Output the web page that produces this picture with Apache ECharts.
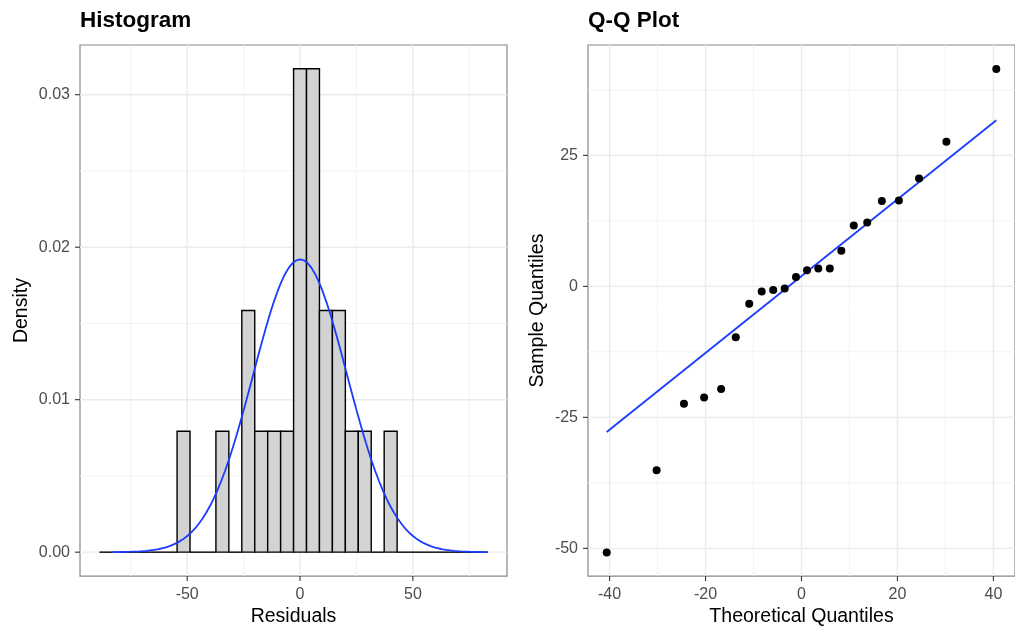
<!DOCTYPE html>
<html>
<head>
<meta charset="utf-8">
<script src="https://cdn.jsdelivr.net/npm/echarts@6/dist/echarts.min.js"></script>
<style>
  html, body { margin: 0; padding: 0; background: #fff; }
  #main { width: 1015px; height: 632px; }
</style>
</head>
<body>
<div id="main"></div>
<script>
// Q-Q 图的数据（直方图也用同一组残差）
var theoreticalQ = [-40.6, -30.2, -24.5, -20.3, -16.75, -13.7, -10.9, -8.3, -5.9, -3.5, -1.15,
                    1.15, 3.5, 5.9, 8.3, 10.9, 13.7, 16.75, 20.3, 24.5, 30.2, 40.6];
var sampleQ = [-50.8, -35.1, -22.4, -21.2, -19.6, -9.7, -3.3, -1.0, -0.7, -0.4, 1.8,
               3.1, 3.4, 3.4, 6.8, 11.6, 12.2, 16.3, 16.4, 20.6, 27.6, 41.5];
// 参考线两端
var qqLineX = [-40.6, 40.6];
var qqLineY = [-27.8, 31.7];

// 直方图分箱
var binWidth = 5.735;
var binFirst = -15, binLast = 14;

// 刻度和网格线
var histXTicks = [-50, 0, 50];
var histXMinor = [-75, -25, 25, 75];
var histYTicks = [0, 0.01, 0.02, 0.03];
var histYMinor = [0.005, 0.015, 0.025];
var qqXTicks = [-40, -20, 0, 20, 40];
var qqXMinor = [-30, -10, 10, 30];
var qqYTicks = [-50, -25, 0, 25];
var qqYMinor = [-37.5, -12.5, 12.5, 37.5];

// 坐标范围
var histXRange = [-97.5, 91.7];
var histYRange = [-0.00157, 0.03326];
var qqXRange = [-44.5, 44.5];
var qqYRange = [-55.3, 46.07];

var FONT = '"Liberation Sans", Arial, Helvetica, sans-serif';
var BORDER = '#888';

// 直方图：按分箱统计密度
var n = sampleQ.length;
var counts = {};
sampleQ.forEach(function (v) {
    var k = Math.round(v / binWidth);
    counts[k] = (counts[k] || 0) + 1;
});
var histData = [];
for (var k = binFirst; k <= binLast; k++) {
    histData.push([(k - 0.5) * binWidth, (k + 0.5) * binWidth, (counts[k] || 0) / (n * binWidth)]);
}

// 正态曲线
var mean = sampleQ.reduce(function (a, b) { return a + b; }, 0) / n;
var sd = Math.sqrt(sampleQ.reduce(function (a, b) { return a + (b - mean) * (b - mean); }, 0) / (n - 1));
var curveData = [];
for (var i = 0; i <= 100; i++) {
    var x = mean - 4 * sd + i * 8 * sd / 100;
    curveData.push([x, Math.exp(-0.5 * Math.pow((x - mean) / sd, 2)) / (sd * Math.sqrt(2 * Math.PI))]);
}

var qqPoints = theoreticalQ.map(function (t, i) { return [t, sampleQ[i]]; });
var qqLine = qqLineX.map(function (t, i) { return [t, qqLineY[i]]; });

// 网格线用 custom 系列画，便于控制层级
function gridLines(idx, xr, yr, xMajor, xMinor, yMajor, yMinor) {
    var items = [];
    xMinor.forEach(function (v) { items.push([v, 0, 0]); });
    yMinor.forEach(function (v) { items.push([v, 1, 0]); });
    xMajor.forEach(function (v) { items.push([v, 0, 1]); });
    yMajor.forEach(function (v) { items.push([v, 1, 1]); });
    return {
        type: 'custom',
        xAxisIndex: idx,
        yAxisIndex: idx,
        silent: true,
        z: 1,
        data: items,
        renderItem: function (params, api) {
            var v = api.value(0), horiz = api.value(1), major = api.value(2);
            var p1, p2;
            if (horiz) {
                p1 = api.coord([xr[0], v]);
                p2 = api.coord([xr[1], v]);
            } else {
                p1 = api.coord([v, yr[0]]);
                p2 = api.coord([v, yr[1]]);
            }
            return {
                type: 'line',
                shape: { x1: p1[0], y1: p1[1], x2: p2[0], y2: p2[1] },
                style: { stroke: major ? '#ebebeb' : '#f3f3f3', lineWidth: major ? 1.4 : 1 }
            };
        }
    };
}

// 刻度线（画在面板外侧）
function tickMarks(idx, xr, yr, xTicks, yTicks) {
    var items = [];
    xTicks.forEach(function (v) { items.push([v, 0]); });
    yTicks.forEach(function (v) { items.push([v, 1]); });
    return {
        type: 'custom',
        xAxisIndex: idx,
        yAxisIndex: idx,
        silent: true,
        clip: false,
        z: 5,
        data: items,
        renderItem: function (params, api) {
            var v = api.value(0), isY = api.value(1);
            var p, shape;
            if (isY) {
                p = api.coord([xr[0], v]);
                shape = { x1: p[0] - 5, y1: p[1], x2: p[0], y2: p[1] };
            } else {
                p = api.coord([v, yr[0]]);
                shape = { x1: p[0], y1: p[1], x2: p[0], y2: p[1] + 5 };
            }
            return { type: 'line', shape: shape, style: { stroke: '#333', lineWidth: 1.1 } };
        }
    };
}

function xAxisOpt(idx, range, ticks, name) {
    return {
        type: 'value', gridIndex: idx, min: range[0], max: range[1],
        splitLine: { show: false },
        axisLine: { show: false, onZero: false },
        axisTick: { show: false },
        axisLabel: { customValues: ticks, margin: 10, color: '#4d4d4d', fontSize: 16, fontFamily: FONT },
        name: name, nameLocation: 'middle', nameGap: 28,
        nameTextStyle: { color: '#000', fontSize: 19.5, fontFamily: FONT }
    };
}

function yAxisOpt(idx, range, ticks, name, gap, fmt) {
    return {
        type: 'value', gridIndex: idx, min: range[0], max: range[1],
        splitLine: { show: false },
        axisLine: { show: false, onZero: false },
        axisTick: { show: false },
        axisLabel: { customValues: ticks, margin: 10, color: '#4d4d4d', fontSize: 16, fontFamily: FONT, formatter: fmt },
        name: name, nameLocation: 'middle', nameGap: gap,
        nameTextStyle: { color: '#000', fontSize: 19.5, fontFamily: FONT }
    };
}

var myChart = echarts.init(document.getElementById('main'));

var option = {
    animation: false,
    backgroundColor: '#fff',
    title: [
        { text: 'Histogram', left: 80, top: 9, padding: 0,
          textStyle: { fontSize: 22.5, fontWeight: 'bold', color: '#000', fontFamily: FONT } },
        { text: 'Q-Q Plot', left: 588, top: 9, padding: 0,
          textStyle: { fontSize: 22.5, fontWeight: 'bold', color: '#000', fontFamily: FONT } }
    ],
    grid: [
        { left: 80, top: 45, width: 427, height: 534, show: true, borderColor: BORDER, borderWidth: 1.2, backgroundColor: 'transparent' },
        { left: 588, top: 45, width: 436, height: 534, show: true, borderColor: BORDER, borderWidth: 1.2, backgroundColor: 'transparent' }
    ],
    xAxis: [
        xAxisOpt(0, histXRange, histXTicks, 'Residuals'),
        xAxisOpt(1, qqXRange, qqXTicks, 'Theoretical Quantiles')
    ],
    yAxis: [
        yAxisOpt(0, histYRange, histYTicks, 'Density', 48, function (v) { return v.toFixed(2); }),
        yAxisOpt(1, qqYRange, qqYTicks, 'Sample Quantiles', 40)
    ],
    series: [
        gridLines(0, histXRange, histYRange, histXTicks, histXMinor, histYTicks, histYMinor),
        gridLines(1, qqXRange, qqYRange, qqXTicks, qqXMinor, qqYTicks, qqYMinor),
        tickMarks(0, histXRange, histYRange, histXTicks, histYTicks),
        tickMarks(1, qqXRange, qqYRange, qqXTicks, qqYTicks),
        {
            type: 'custom',
            name: 'hist',
            xAxisIndex: 0, yAxisIndex: 0,
            z: 2,
            data: histData,
            encode: { x: [0, 1], y: 2 },
            renderItem: function (params, api) {
                var x0 = api.value(0), x1 = api.value(1), d = api.value(2);
                var a = api.coord([x0, d]);
                var b = api.coord([x1, 0]);
                if (d === 0) {
                    return {
                        type: 'line',
                        shape: { x1: a[0], y1: b[1], x2: b[0], y2: b[1] },
                        style: { stroke: '#000', lineWidth: 1.4 }
                    };
                }
                return {
                    type: 'rect',
                    shape: { x: a[0], y: a[1], width: b[0] - a[0], height: b[1] - a[1] },
                    style: { fill: '#d3d3d3', stroke: '#000', lineWidth: 1.4 }
                };
            }
        },
        {
            type: 'line',
            name: 'normal',
            xAxisIndex: 0, yAxisIndex: 0,
            z: 3,
            data: curveData,
            showSymbol: false,
            lineStyle: { color: '#1b3bff', width: 1.8 }
        },
        {
            type: 'line',
            name: 'qqline',
            xAxisIndex: 1, yAxisIndex: 1,
            z: 3,
            data: qqLine,
            showSymbol: false,
            lineStyle: { color: '#1b3bff', width: 1.8 }
        },
        {
            type: 'scatter',
            name: 'points',
            xAxisIndex: 1, yAxisIndex: 1,
            z: 4,
            data: qqPoints,
            symbolSize: 8,
            itemStyle: { color: '#000', opacity: 1 }
        }
    ]
};

myChart.setOption(option);
</script>
</body>
</html>
